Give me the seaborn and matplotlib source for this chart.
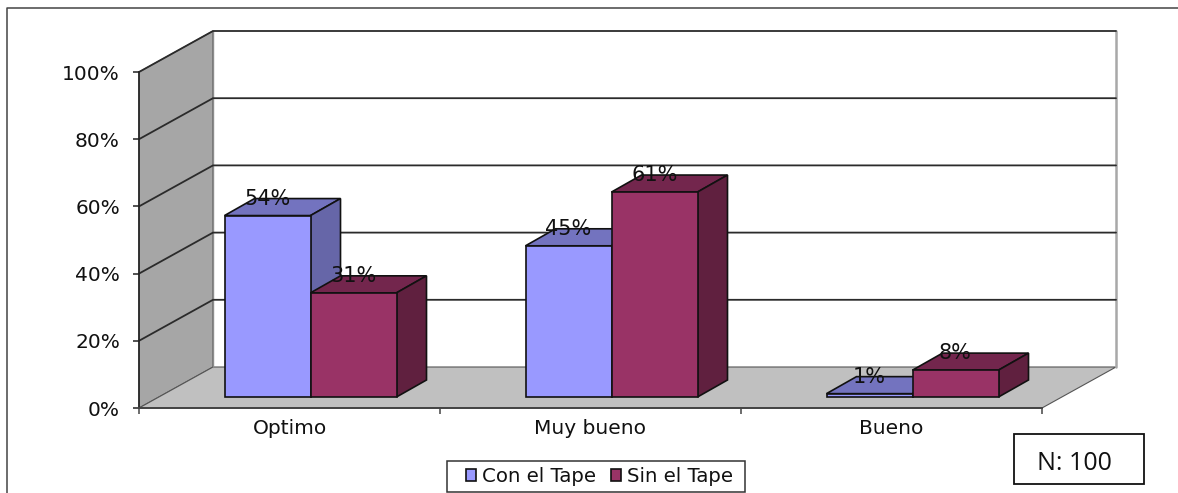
import matplotlib
matplotlib.use("Agg")
import matplotlib.pyplot as plt
from matplotlib.lines import Line2D
from matplotlib.patches import Patch, Polygon, Rectangle
import pandas as pd
import seaborn as sns

categories = ["Optimo", "Muy bueno", "Bueno"]
series_names = ["Con el Tape", "Sin el Tape"]
con_tape = [54, 45, 1]
sin_tape = [31, 61, 8]
y_ticks = [0, 20, 40, 60, 80, 100]

front_colors = ["#9999FF", "#993366"]
top_colors = ["#7373BF", "#73264D"]
side_colors = ["#6666A8", "#60203F"]

W, H = 1178, 493
sns.set_style("white")
plt.rcParams["font.family"] = ["DejaVu Sans"]

df = pd.DataFrame({
    "categoria": categories * 2,
    "serie": [series_names[0]] * 3 + [series_names[1]] * 3,
    "valor": con_tape + sin_tape,
})

fig = plt.figure(figsize=(W / 100, H / 100), dpi=100, facecolor="white")
ax = fig.add_axes([139 / W, (H - 408) / H, 903 / W, 336 / H], facecolor="none")

sns.barplot(data=df, x="categoria", y="valor", hue="serie", order=categories,
            hue_order=series_names, palette=front_colors, width=172 / 301, gap=0,
            saturation=1, edgecolor="#111111", linewidth=1.2, legend=False, ax=ax)
ax.set_xlim(-0.5, 2.5)
ax.set_ylim(0, 100)

# Oblique projection: pixel offsets converted to axis units
px_x = 3 / 903
px_y = 100 / 336
room_dx, room_dy = 74 * px_x, 41 * px_y
shift_dx, shift_dy = 21 * px_x, 11 * px_y
bar_dx, bar_dy = 30 * px_x, 17 * px_y

x0, x1 = -0.5, 2.5


def face(points, color, z, edge="#111111", lw=1.2):
    ax.add_patch(Polygon(points, closed=True, facecolor=color, edgecolor=edge,
                         linewidth=lw, zorder=z, clip_on=False))


# Side wall, floor and back wall
face([(x0, 0), (x0 + room_dx, room_dy), (x0 + room_dx, 100 + room_dy), (x0, 100)],
     "#A6A6A6", 0.5, edge="#555555", lw=0.8)
face([(x0, 0), (x0 + room_dx, room_dy), (x1 + room_dx, room_dy), (x1, 0)],
     "#C0C0C0", 0.5, edge="#555555", lw=0.8)
ax.plot([x1 + room_dx, x1 + room_dx], [room_dy, 100 + room_dy], color="#A8A8A8",
        lw=1.8, zorder=0.6, clip_on=False)
ax.plot([x0 + room_dx, x0 + room_dx], [room_dy, 100 + room_dy], color="#8C8C8C",
        lw=1.0, zorder=0.6, clip_on=False)

# Gridlines run along the side wall and across the back wall
for tick in y_ticks[1:]:
    back_y = tick + room_dy
    ax.plot([x0, x0 + room_dx, x1 + room_dx], [tick, back_y, back_y],
            color="#2B2B2B", lw=1.3, zorder=0.7, clip_on=False, solid_joinstyle="miter")

# Shift the fronts into the room and add the top and side of each bar
bars = [b for b in ax.patches if isinstance(b, Rectangle)]
for i, bar in enumerate(bars):
    hue_index = i // 3
    z = 3 + hue_index
    bar.set_x(bar.get_x() + shift_dx)
    bar.set_y(shift_dy)
    bar.set_zorder(z + 0.2)
    bar.set_clip_on(False)
    left, w, h = bar.get_x(), bar.get_width(), bar.get_height()
    base, top = shift_dy, shift_dy + h
    right = left + w
    face([(left, top), (left + bar_dx, top + bar_dy), (right + bar_dx, top + bar_dy), (right, top)],
         top_colors[hue_index], z)
    face([(right, base), (right + bar_dx, base + bar_dy), (right + bar_dx, top + bar_dy), (right, top)],
         side_colors[hue_index], z)
    ax.text(left + w / 2, top + bar_dy, f"{h:.0f}%", ha="center", va="center",
            fontsize=15, color="#111111", zorder=8, clip_on=False)

# Axes and ticks
for name in ("top", "right"):
    ax.spines[name].set_visible(False)
ax.spines["left"].set_color("#222222")
ax.spines["bottom"].set_color("#444444")
ax.spines["left"].set_linewidth(1.2)
ax.spines["bottom"].set_linewidth(1.4)
ax.spines["left"].set_zorder(1)
ax.spines["bottom"].set_zorder(1)
ax.set_xlabel("")
ax.set_ylabel("")
ax.set_yticks(y_ticks, [f"{t}%" for t in y_ticks], fontsize=14.5, color="#111111")
ax.set_xticks(range(3), categories, fontsize=14.5, color="#111111")
ax.set_xticks([-0.5, 0.5, 1.5, 2.5], minor=True)
ax.tick_params(axis="y", left=True, length=4.3, width=1.1, color="#222222", pad=9.4)
ax.tick_params(axis="x", which="major", bottom=False, length=0, pad=8)
ax.tick_params(axis="x", which="minor", bottom=True, length=4.5, width=1.1, color="#444444")

# Legend frame and entries
fig.add_artist(Rectangle((447 / W, (H - 492) / H), 298 / W, 31 / H, transform=fig.transFigure,
                         facecolor="white", edgecolor="#333333", linewidth=1.1))
legend_handles = [Patch(facecolor=c, edgecolor="#111111", linewidth=1.2) for c in front_colors]
legend = fig.legend(legend_handles, series_names, loc="center",
                    bbox_to_anchor=(599.5 / W, (H - 476.5) / H), ncol=2, fontsize=14.2,
                    frameon=False, labelcolor="#111111",
                    handlelength=0.5, handleheight=0.55, handletextpad=0.3,
                    columnspacing=0.75, borderpad=0, borderaxespad=0)
legend.set_zorder(5)

# Sample size box
fig.text(1074 / W, (H - 464) / H, "N: 100", family="Open Sans", fontsize=18,
         ha="center", va="center", color="#111111")
fig.add_artist(Rectangle((1014 / W, (H - 484) / H), 130 / W, 50 / H, transform=fig.transFigure,
                         facecolor="none", edgecolor="#111111", linewidth=1.3))

# Outer frame along the top and left edges
fig.add_artist(Line2D([7 / W, 7 / W, 1], [0, (H - 8) / H, (H - 8) / H],
                      transform=fig.transFigure, color="#444444", lw=1.1))

fig.savefig("out.png", dpi=100)
